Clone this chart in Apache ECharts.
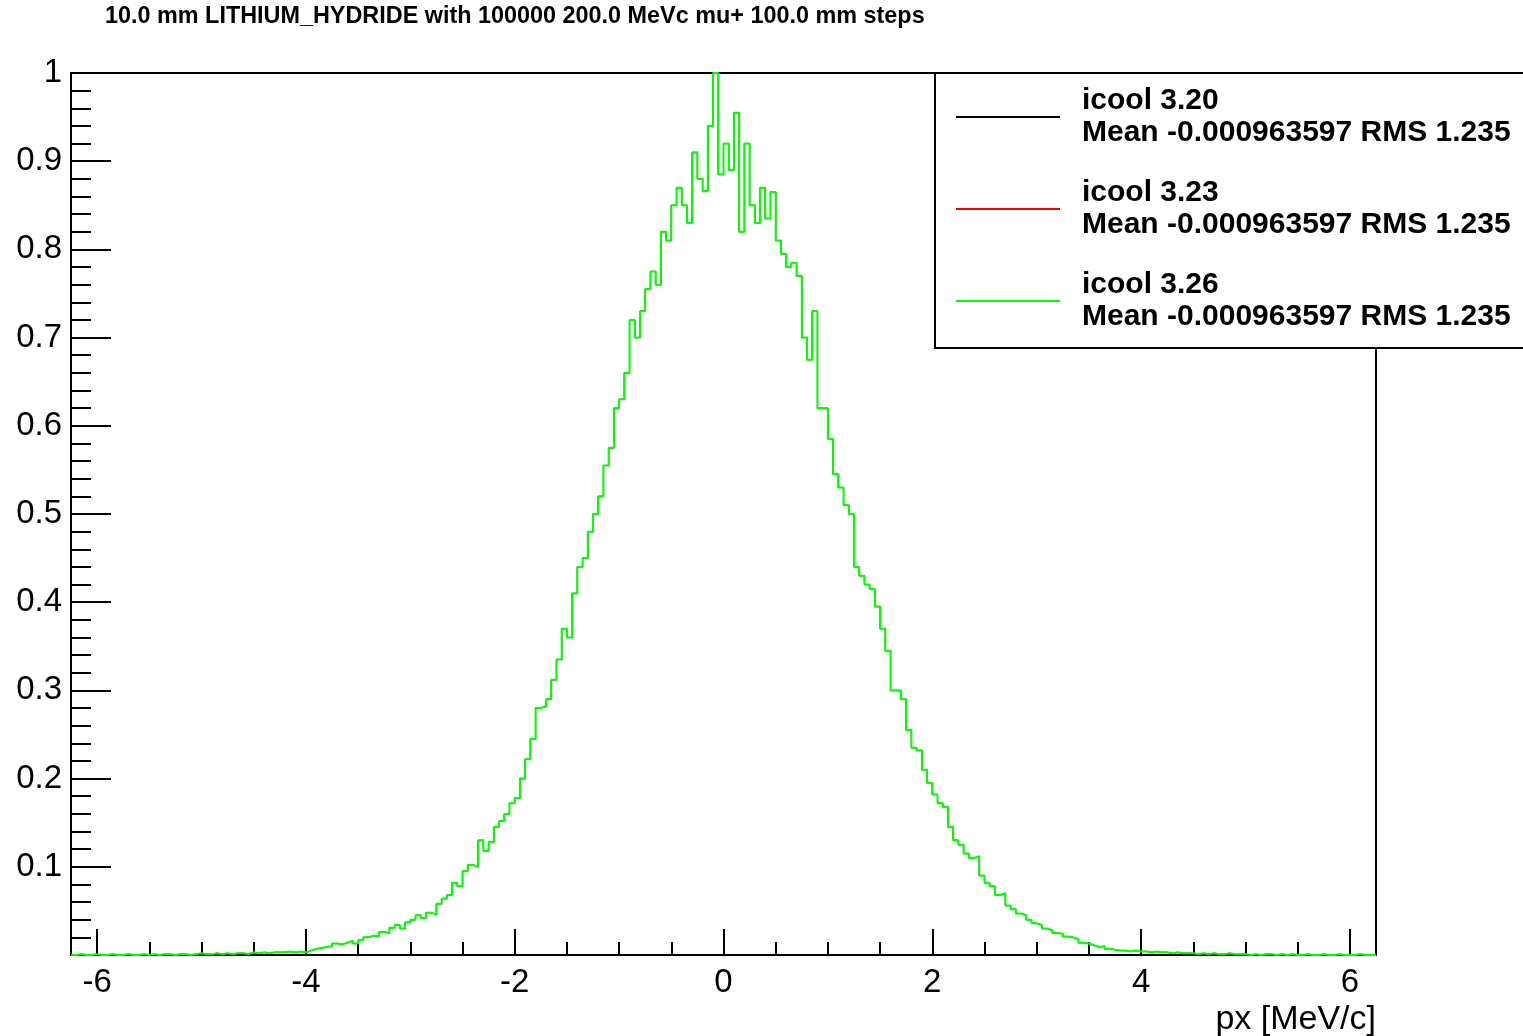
<!DOCTYPE html>
<html><head><meta charset="utf-8">
<script src="https://cdn.jsdelivr.net/npm/echarts@6/dist/echarts.min.js"></script>
<style>html,body{margin:0;padding:0;background:#fff}#c{width:1523px;height:1036px}</style>
</head><body><div id="c"></div>
<script>
const titleText = '10.0 mm LITHIUM_HYDRIDE with 100000 200.0 MeVc mu+ 100.0 mm steps';
const xAxisTitle = 'px [MeV/c]';
const seriesNames = ['icool 3.20', 'icool 3.23', 'icool 3.26'];
const seriesColors = ['#000000', '#ff0000', '#00ff00'];
const meanText = '-0.000963597';
const rmsText = '1.235';
const binLow = -6.25;
const binWidth = 0.05;
// bins from -6.25 to 0 (left edges), normalised counts
const countsNeg = [
  0,0.001,0,0,0.001,0,0,0.001,0,0,
  0.001,0,0,0.001,0,0.001,0,0.001,0.001,0,
  0.001,0.001,0,0.001,0.002,0.001,0.001,0.002,0.001,0.002,
  0.001,0.002,0.002,0.001,0.003,0.002,0.003,0.002,0.003,0.003,
  0.003,0.004,0.003,0.004,0.003,0.005,0.007,0.008,0.009,0.010,
  0.013,0.012,0.014,0.016,0.013,0.017,0.020,0.022,0.021,0.026,
  0.025,0.031,0.034,0.030,0.037,0.040,0.045,0.042,0.048,0.046,
  0.058,0.064,0.068,0.082,0.078,0.095,0.102,0.100,0.130,0.118,
  0.128,0.145,0.152,0.160,0.172,0.178,0.200,0.222,0.245,0.280,
  0.282,0.290,0.312,0.335,0.370,0.360,0.410,0.440,0.450,0.480,
  0.500,0.520,0.555,0.575,0.620,0.630,0.660,0.720,0.700,0.730,
  0.755,0.775,0.760,0.820,0.810,0.850,0.870,0.850,0.830,0.910,
  0.880,0.866,0.940,1.000,0.885
];
// bins from 0 to 6.25 (left edges)
const countsPos = [
  0.920,0.890,0.955,0.820,0.920,0.850,0.830,0.870,0.835,0.865,
  0.810,0.795,0.780,0.785,0.770,0.700,0.675,0.730,0.620,0.620,
  0.585,0.545,0.530,0.510,0.500,0.440,0.430,0.420,0.415,0.395,
  0.370,0.345,0.300,0.300,0.290,0.255,0.235,0.232,0.210,0.195,
  0.182,0.172,0.168,0.145,0.130,0.125,0.115,0.110,0.112,0.090,
  0.082,0.078,0.068,0.070,0.056,0.052,0.047,0.045,0.040,0.036,
  0.034,0.030,0.028,0.025,0.024,0.021,0.020,0.018,0.014,0.013,
  0.011,0.009,0.010,0.007,0.006,0.005,0.005,0.004,0.005,0.004,
  0.004,0.003,0.004,0.003,0.003,0.002,0.003,0.002,0.002,0.002,
  0.001,0.002,0.001,0.002,0.001,0.001,0.002,0.001,0.001,0.001,
  0,0.001,0,0.001,0.001,0,0.001,0,0.001,0,
  0,0.001,0,0,0.001,0,0,0.001,0,0,
  0,0.001,0,0,0
];
const xMajorTicks = [-6, -4, -2, 0, 2, 4, 6];
const xMinorTicks = [-6,-5.5,-5,-4.5,-4,-3.5,-3,-2.5,-2,-1.5,-1,-0.5,0,0.5,1,1.5,2,2.5,3,3.5,4,4.5,5,5.5,6];

const FONT = 'Liberation Sans';
const values = countsNeg.concat(countsPos);
const pts = values.map((v, i) => [+(binLow + i * binWidth).toFixed(4), v]);
pts.push([+(binLow + values.length * binWidth).toFixed(4), values[values.length - 1]]);

const chart = echarts.init(document.getElementById('c'), null, {renderer: 'canvas'});
chart.setOption({
  animation: false,
  backgroundColor: '#ffffff',
  title: {
    text: titleText, left: 105, top: 5, padding: 0,
    textStyle: {fontFamily: FONT, fontWeight: 'bold', fontSize: 23.4, color: '#000'}
  },
  grid: {left: 71, top: 73, width: 1305, height: 882, show: true, borderColor: '#000', borderWidth: 2, backgroundColor: 'transparent'},
  legend: {
    left: 935, top: 73, orient: 'vertical', align: 'left',
    icon: 'rect', itemWidth: 104, itemHeight: 2, itemGap: 28,
    padding: [12, 20, 15, 21],
    borderColor: '#000', borderWidth: 2, backgroundColor: '#fff',
    selectedMode: false,
    data: seriesNames,
    formatter: name => name + '\n' + 'Mean ' + meanText + ' RMS ' + rmsText,
    textStyle: {fontFamily: FONT, fontWeight: 'bold', fontSize: 30, lineHeight: 32, color: '#000', padding: [0, 0, 0, 17]}
  },
  graphic: [{
    type: 'text', right: 147, top: 1003, z: 10,
    style: {text: xAxisTitle, fontFamily: FONT, fontSize: 34, fill: '#000'}
  }],
  xAxis: [{
    type: 'value', min: -6.25, max: 6.25, gridIndex: 0, position: 'bottom',
    axisLine: {show: true, onZero: false, lineStyle: {color: '#000', width: 2}},
    axisTick: {show: true, customValues: xMajorTicks, inside: true, length: 26, lineStyle: {color: '#000', width: 2}},
    axisLabel: {customValues: xMajorTicks, fontFamily: FONT, fontSize: 33, color: '#000', margin: 11},
    splitLine: {show: false}
  }, {
    type: 'value', min: -6.25, max: 6.25, gridIndex: 0, position: 'bottom',
    axisLine: {show: false, onZero: false},
    axisTick: {show: true, customValues: xMinorTicks, inside: true, length: 13, lineStyle: {color: '#000', width: 2}},
    axisLabel: {show: false},
    splitLine: {show: false}
  }],
  yAxis: {
    type: 'value', min: 0, max: 1, interval: 0.1, position: 'left',
    axisLine: {show: true, onZero: false, lineStyle: {color: '#000', width: 2}},
    axisTick: {show: true, inside: true, length: 40, lineStyle: {color: '#000', width: 2}},
    minorTick: {show: true, splitNumber: 5, length: 20, lineStyle: {color: '#000', width: 2}},
    axisLabel: {
      fontFamily: FONT, fontSize: 33, color: '#000', margin: 9,
      formatter: v => (v < 0.05 ? '' : (v > 0.95 ? '1' : v.toFixed(1)))
    },
    splitLine: {show: false}, minorSplitLine: {show: false}
  },
  series: seriesNames.map((n, k) => ({
    name: n, type: 'line', step: 'end', data: pts,
    xAxisIndex: 0, yAxisIndex: 0,
    symbol: 'none', showSymbol: false,
    lineStyle: {color: seriesColors[k], width: k === 2 ? 2 : 1},
    itemStyle: {color: seriesColors[k]},
    z: 2 + k
  }))
});
</script></body></html>
